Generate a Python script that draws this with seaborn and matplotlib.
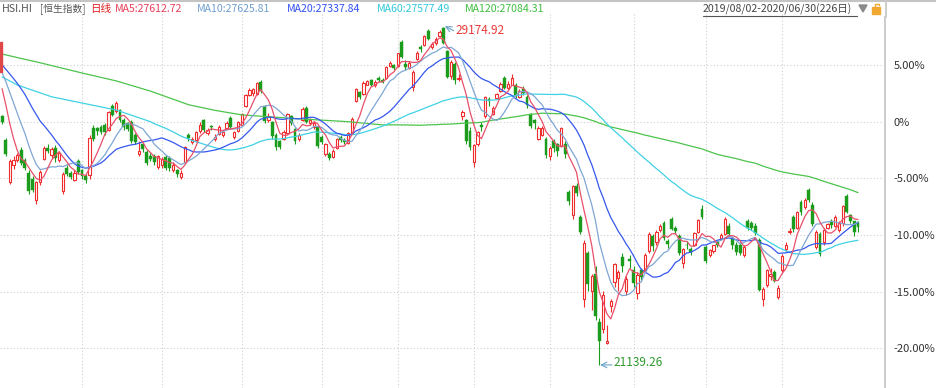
import numpy as np
import pandas as pd
import matplotlib
matplotlib.use("Agg")
import matplotlib.pyplot as plt
import seaborn as sns
from matplotlib.patches import Rectangle, Polygon
from matplotlib.lines import Line2D

# ---------------- data (HSI daily, 2019/08/02 - 2020/06/30) ----------------
lead_in_close = [28331, 28116, 28204, 28432, 28471, 28554, 28620, 28593, 28461, 28765,
                 28371, 28466, 28524, 28594, 28397, 28106, 28146, 27777, 27565]

open_aug = [27050, 26480, 25480, 25900, 26000, 26250, 26000, 25700, 25550, 25050, 25480, 26020, 26300, 26130, 26300, 26000, 25280, 25820, 25700, 25540, 25990]
high_aug = [27080, 26520, 26030, 26100, 26180, 26320, 26050, 25760, 25620, 25520, 25780, 26330, 26380, 26320, 26360, 26220, 25720, 25880, 25740, 25760, 26020]
low_aug = [26860, 26110, 25440, 25800, 25950, 25900, 25780, 25200, 25250, 24960, 25420, 26000, 26180, 26050, 25950, 25960, 25190, 25620, 25560, 25500, 25680]
close_aug = [26918, 26151, 25976, 25997, 26120, 25939, 25825, 25281, 25302, 25495, 25734, 26291, 26231, 26270, 26048, 26179, 25680, 25664, 25615, 25703, 25724]

open_sep = [25760, 25620, 25650, 26780, 26760, 26800, 26840, 26720, 27300, 27180, 27200, 26960, 26880, 26900, 26600, 26150, 26380, 26200, 26100, 26100, 25850]
high_sep = [25800, 25680, 26600, 26830, 26800, 26840, 26880, 27180, 27330, 27400, 27220, 27000, 26920, 26950, 26650, 26450, 26420, 26250, 26180, 26150, 26120]
low_sep = [25560, 25450, 25560, 26450, 26600, 26620, 26600, 26700, 27050, 27120, 26900, 26720, 26700, 26420, 26380, 26100, 26200, 25900, 25980, 25900, 25800]
close_sep = [25626, 25527, 26523, 26515, 26690, 26681, 26683, 27159, 27087, 27352, 26953, 26790, 26754, 26468, 26435, 26222, 26281, 25945, 26041, 25955, 26092]

open_oct = [25880, 26080, 26050, 25780, 25760, 25600, 25960, 26600, 26430, 26480, 26700, 26950, 26650, 26820, 26500, 26620, 26600, 26760, 27000, 26560, 26700]
high_oct = [26080, 26120, 26100, 25950, 25800, 25760, 26350, 26640, 26560, 26700, 26900, 26980, 26760, 26850, 26620, 26830, 26720, 26930, 27050, 26700, 26940]
low_oct = [25820, 25780, 25740, 25720, 25610, 25550, 25940, 26450, 26380, 26450, 26650, 26680, 26600, 26720, 26450, 26600, 26560, 26740, 26750, 26500, 26680]
close_oct = [26042, 25821, 25821, 25893, 25683, 25707, 26308, 26521, 26503, 26665, 26848, 26720, 26725, 26786, 26566, 26797, 26667, 26891, 26786, 26667, 26906]

open_nov = [26850, 27280, 27560, 27600, 27580, 27860, 27300, 26950, 26900, 26600, 26450, 26500, 26640, 27050, 26750, 26500, 26950, 27250, 26880, 26800, 26800]
high_nov = [27130, 27580, 27720, 27730, 27870, 27900, 27320, 27120, 26940, 26650, 26480, 26720, 27120, 27080, 26780, 26640, 27260, 27300, 27000, 26930, 26820]
low_nov = [26830, 27260, 27520, 27540, 27560, 27600, 26880, 26900, 26500, 26250, 26280, 26480, 26620, 26840, 26400, 26450, 26930, 26880, 26850, 26750, 26300]
close_nov = [27101, 27547, 27683, 27688, 27847, 27651, 26926, 27065, 26571, 26323, 26326, 26681, 27093, 26889, 26466, 26595, 27227, 26913, 26954, 26893, 26346]

open_dec = [26560, 26150, 26150, 26080, 26300, 26560, 26480, 26420, 26650, 27400, 27620, 27580, 27800, 27900, 27780, 27960, 27920, 27950, 28250, 28260]
high_dec = [26600, 26420, 26200, 26260, 26530, 26600, 26520, 26680, 27030, 27720, 27650, 27880, 27920, 27940, 27900, 28000, 27950, 28250, 28360, 28300]
low_dec = [26380, 26100, 26000, 26050, 26280, 26440, 26380, 26400, 26620, 27380, 27450, 27560, 27780, 27760, 27750, 27850, 27840, 27930, 28220, 28150]
close_dec = [26444, 26391, 26062, 26217, 26498, 26494, 26436, 26645, 26994, 27688, 27508, 27843, 27884, 27800, 27871, 27906, 27864, 28225, 28319, 28190]

open_jan = [28250, 28800, 28300, 28200, 27750, 28400, 28700, 28750, 29080, 28700, 28780, 28950, 29150, 28600, 28000, 28300, 27930, 27050, 26950, 26700]
high_jan = [28560, 28860, 28380, 28360, 28150, 28600, 28750, 28980, 29130, 28820, 28920, 29100, 29174.92, 28620, 28380, 28340, 28050, 27200, 26980, 26800]
low_jan = [28220, 28420, 28150, 28180, 27650, 28380, 28580, 28720, 28860, 28650, 28750, 28920, 28770, 27950, 27940, 27820, 27880, 26950, 26380, 26240]
close_jan = [28543, 28452, 28226, 28322, 28088, 28561, 28638, 28955, 28885, 28773, 28883, 29056, 28795, 27985, 28341, 27909, 27950, 27160, 26449, 26313]

open_feb = [25950, 26400, 26850, 27050, 27450, 27100, 27480, 27650, 27950, 27720, 27800, 27800, 27500, 27700, 27500, 27100, 26950, 26500, 26600, 26500]
high_feb = [26400, 26700, 26900, 27520, 27500, 27280, 27600, 27850, 28000, 27880, 28055, 27830, 27700, 27760, 27560, 27120, 26990, 26820, 26820, 26550]
low_feb = [25850, 26350, 26700, 27000, 27300, 27080, 27450, 27620, 27700, 27700, 27780, 27480, 27480, 27550, 27250, 26780, 26750, 26480, 26580, 26050]
close_feb = [26356, 26675, 26786, 27493, 27404, 27241, 27583, 27823, 27730, 27815, 27960, 27530, 27655, 27609, 27308, 26820, 26893, 26778, 26778, 26129]

open_mar = [26100, 26450, 26400, 26350, 26400, 25250, 24700, 25400, 24650, 22700, 23800, 22900, 23300, 22170, 22000, 21670, 22550, 23100, 23200, 23700, 22900, 23650]
high_mar = [26350, 26500, 26420, 26800, 26450, 25300, 25420, 25450, 24700, 24100, 23850, 23300, 23500, 22250, 22900, 22090, 22700, 23560, 23400, 23800, 23250, 23750]
low_mar = [26000, 26200, 26100, 26320, 26050, 24950, 24600, 25150, 24250, 22520, 22900, 22450, 22200, 21139.26, 21900, 21640, 22400, 23000, 22900, 23350, 22800, 23450]
close_mar = [26292, 26284, 26222, 26767, 26146, 25040, 25392, 25232, 24309, 24032, 23064, 23263, 22291, 21709, 22805, 21696, 22663, 23527, 23352, 23484, 23175, 23603]

open_apr = [23400, 22850, 23400, 23400, 23850, 24200, 24050, 24350, 24500, 24080, 24600, 24400, 24200, 23550, 24000, 23900, 24000, 24300, 24850]
high_apr = [23500, 23350, 23450, 23800, 24300, 24250, 24350, 24480, 24550, 24120, 24650, 24450, 24250, 23920, 24080, 23950, 24300, 24600, 24950]
low_apr = [23000, 22700, 23150, 23350, 23800, 23850, 24000, 24300, 24100, 23920, 24350, 24250, 23750, 23450, 23900, 23750, 23980, 24280, 24600]
close_apr = [23085, 23280, 23236, 23749, 24253, 23970, 24300, 24435, 24146, 24006, 24380, 24330, 23794, 23893, 23977, 23832, 24281, 24575, 24643]

open_may = [23950, 23750, 23850, 24050, 24150, 24250, 24450, 24150, 24000, 24000, 23750, 24550, 24500, 24450, 24100, 22700, 23050, 23250, 23350, 22750]
high_may = [24000, 23900, 24000, 24100, 24280, 24650, 24500, 24180, 24050, 24050, 23980, 24600, 24550, 24500, 24150, 23000, 23420, 23450, 23400, 23050]
low_may = [23550, 23700, 23800, 23950, 24100, 24220, 24200, 23900, 23750, 23750, 23700, 24350, 24350, 24220, 22900, 22550, 23000, 23150, 23100, 22700]
close_may = [23613, 23868, 23980, 23997, 24230, 24602, 24245, 23983, 23830, 23797, 23934, 24388, 24400, 24280, 22930, 22952, 23385, 23301, 23132, 22961]

open_jun = [23400, 23900, 24300, 24650, 24400, 25000, 24900, 25300, 24950, 23950, 24250, 24050, 24400, 24550, 24450, 24350, 24500, 25150, 24700, 24550, 24500]
high_jun = [23780, 24050, 24400, 24700, 24800, 25050, 25100, 25350, 25000, 24350, 24300, 24400, 24520, 24600, 24700, 24550, 24950, 25200, 24720, 24560, 24550]
low_jun = [23350, 23850, 24250, 24300, 24380, 24700, 24850, 25000, 24450, 23900, 23720, 24000, 24380, 24400, 24420, 24300, 24450, 24750, 24500, 24200, 24300]
close_jun = [23732, 23995, 24325, 24366, 24770, 24776, 25057, 25049, 24480, 24301, 23776, 24344, 24481, 24465, 24643, 24511, 24907, 24781, 24549, 24301, 24427]

# MA60 / MA120 at the very start (% vs. base)
ma60_head_idx = [0, 4, 13, 21, 30, 39]
ma60_head_pct = [3.95, 3.24, 2.2, 1.65, 1.03, 0.0]
ma120_head_idx = [0, 10, 21, 30, 39, 49, 56, 63, 76, 91]
ma120_head_pct = [5.97, 5.2, 4.3, 3.6, 2.7, 1.5, 1.0, 0.6, 0.3, 0.0]

month_start_idx = [21, 42, 63, 84, 104, 124, 144, 166, 185, 205]
ytick_vals = [5, 0, -5, -10, -15, -20]
ytick_labels = ["5.00%", "0%", "-5.00%", "-10.00%", "-15.00%", "-20.00%"]
high_label = "29174.92"
low_label = "21139.26"
header_items = [("HSI.HI", "#555555"), ("[恒生指数]", "#555555"), ("日线", "#e02020"),
                ("MA5:27612.72", "#e8405a"), ("MA10:27625.81", "#6f9fd0"),
                ("MA20:27337.84", "#3050f0"), ("MA60:27577.49", "#30c8dc"),
                ("MA120:27084.31", "#40bf40")]
date_range = "2019/08/02-2020/06/30(226日)"

# ---------------- assemble ----------------
months = ["aug", "sep", "oct", "nov", "dec", "jan", "feb", "mar", "apr", "may", "jun"]
g = globals()
o = np.array(sum([g["open_" + m] for m in months], []), float)
h = np.array(sum([g["high_" + m] for m in months], []), float)
l = np.array(sum([g["low_" + m] for m in months], []), float)
c = np.array(sum([g["close_" + m] for m in months], []), float)
n = len(c)
idx = np.arange(n)
base = c[0]
pct = lambda v: (np.asarray(v, float) / base - 1) * 100

allc = pd.Series(list(lead_in_close) + list(c))
nl = len(lead_in_close)
ma = {}
for w in (5, 10, 20, 60, 120):
    ma[w] = allc.rolling(w).mean().values[nl:]

df_lines = []
for w in (5, 10, 20):
    df_lines.append(pd.DataFrame({"i": idx, "v": pct(ma[w]), "ma": f"MA{w}"}))
x60 = list(ma60_head_idx) + list(range(40, n))
y60 = list(ma60_head_pct) + list(pct(ma[60][40:]))
df_lines.append(pd.DataFrame({"i": x60, "v": y60, "ma": "MA60"}))
x120 = list(ma120_head_idx) + list(range(100, n))
y120 = list(ma120_head_pct) + list(pct(ma[120][100:]))
df_lines.append(pd.DataFrame({"i": x120, "v": y120, "ma": "MA120"}))
lines = pd.concat(df_lines, ignore_index=True)

# ---------------- figure ----------------
sns.set_style("white")
plt.rcParams["font.family"] = ["Noto Sans CJK SC", "DejaVu Sans"]

W, H = 936, 388
fig = plt.figure(figsize=(W / 100, H / 100), dpi=100)
ax_top = 17
ax = fig.add_axes([0, 0, 885 / W, (H - ax_top) / H])
ax.set_facecolor("white")

x_lo = -2.1 / 3.804
x_hi = (885 - 2.1) / 3.804
y_hi = (121.7 - ax_top) / 11.33
y_lo = (121.7 - 388) / 11.33
ax.set_xlim(x_lo, x_hi)
ax.set_ylim(y_lo, y_hi)

grid_col = "#cfcfcf"
for yv in ytick_vals:
    ax.axhline(yv, color=grid_col, lw=0.8, ls=(0, (1, 2)), zorder=0)
for mi in month_start_idx:
    ax.axvline(mi, color=grid_col, lw=0.8, ls=(0, (1, 2)), zorder=0)

RED = "#f02c2c"
GREEN = "#1c9c1c"
up = c >= o
cols = np.where(up, RED, GREEN)
op, cp, hp, lp = pct(o), pct(c), pct(h), pct(l)
ax.vlines(idx, lp, hp, colors=cols, lw=0.8, zorder=2)
bot = np.minimum(op, cp)
hgt = np.maximum(np.abs(cp - op), 0.06)
ax.bar(idx[up], hgt[up], bottom=bot[up], width=0.6, facecolor="white",
       edgecolor=RED, linewidth=0.8, zorder=3)
ax.bar(idx[~up], hgt[~up], bottom=bot[~up], width=0.75, facecolor=GREEN,
       edgecolor=GREEN, linewidth=0.3, zorder=3)

palette = {"MA5": "#e8506a", "MA10": "#7fa6d4", "MA20": "#3558ee",
           "MA60": "#3fd2e4", "MA120": "#4cc44c"}
for name in ["MA120", "MA60", "MA20", "MA10", "MA5"]:
    sub = lines[lines["ma"] == name]
    sns.lineplot(data=sub, x="i", y="v", ax=ax, color=palette[name], lw=0.9,
                 sort=False, estimator=None, zorder=4, legend=False)

# annotations of extreme points
i_hi = int(np.argmax(h)); i_lo = int(np.argmin(l))
ax.annotate("", xy=(i_hi + 0.4, pct(h[i_hi]) + 0.05), xytext=(i_hi + 2.7, pct(h[i_hi]) - 0.35),
            arrowprops=dict(arrowstyle="->", color="#6aa2c8", lw=0.8, shrinkA=0, shrinkB=0), zorder=6)
ax.text(i_hi + 3.2, pct(h[i_hi]) - 0.35, high_label, color="#e83838", fontsize=8.5,
        va="center", ha="left", zorder=6)
ax.annotate("", xy=(i_lo + 0.2, pct(l[i_lo])), xytext=(i_lo + 3.3, pct(l[i_lo])),
            arrowprops=dict(arrowstyle="->", color="#6aa2c8", lw=0.8, shrinkA=0, shrinkB=0), zorder=6)
ax.text(i_lo + 3.6, pct(l[i_lo]) + 0.2, low_label, color="#2e9a2e", fontsize=8.5,
        va="center", ha="left", zorder=6)

ax.set_xticks([])
ax.yaxis.tick_right()
ax.set_yticks(ytick_vals)
ax.set_yticklabels(ytick_labels)
ax.tick_params(axis="y", length=0, pad=6, labelsize=8, labelcolor="#333333")
ax.set_xlabel(""); ax.set_ylabel("")
for s in ["top", "left", "bottom"]:
    ax.spines[s].set_visible(False)
ax.spines["right"].set_color("#cccccc")
ax.spines["right"].set_linewidth(1.4)

# ---------------- header & chrome ----------------
def fx(px): return px / W
def fy(py): return 1 - py / H

fig.add_artist(Line2D([0, 1], [fy(0.6), fy(0.6)], color="#c4c4c4", lw=1.5))
fig.add_artist(Line2D([fx(885.5), fx(885.5)], [fy(0), fy(ax_top)], color="#cccccc", lw=1.4))
for mi in month_start_idx:
    px = 2.1 + 3.804 * mi
    fig.add_artist(Line2D([fx(px), fx(px)], [fy(14), fy(ax_top)], color=grid_col, lw=0.8, ls=(0, (1, 2))))

hx = [2, 40, 90, 115, 197, 287, 377, 465]
hsize = [7.6, 7.0, 7.6, 7.6, 7.6, 7.6, 7.6, 7.6]
for (txt, col), px, fs in zip(header_items, hx, hsize):
    fig.text(fx(px), fy(9), txt, color=col, fontsize=fs, va="center", ha="left")
fig.text(fx(703), fy(9), date_range, color="#444444", fontsize=7.6, va="center", ha="left")
fig.add_artist(Line2D([fx(703), fx(857)], [fy(15.5), fy(15.5)], color="#555555", lw=0.8))
fig.add_artist(Polygon([[fx(859), fy(5)], [fx(867), fy(5)], [fx(863), fy(12)]],
                       closed=True, color="#8a8a8a", transform=fig.transFigure))
fig.add_artist(Rectangle((fx(872), fy(14)), 8 / W, 7 / H, color="#f0a830", transform=fig.transFigure))
fig.add_artist(Line2D([fx(875), fx(875), fx(879), fx(879)], [fy(7), fy(3.5), fy(3.5), fy(5)],
                      color="#f0a830", lw=1.0))
fig.add_artist(Rectangle((fx(0), fy(72)), 2.2 / W, 30 / H, color="#e04848", transform=fig.transFigure))

fig.savefig("out.png", dpi=100)
